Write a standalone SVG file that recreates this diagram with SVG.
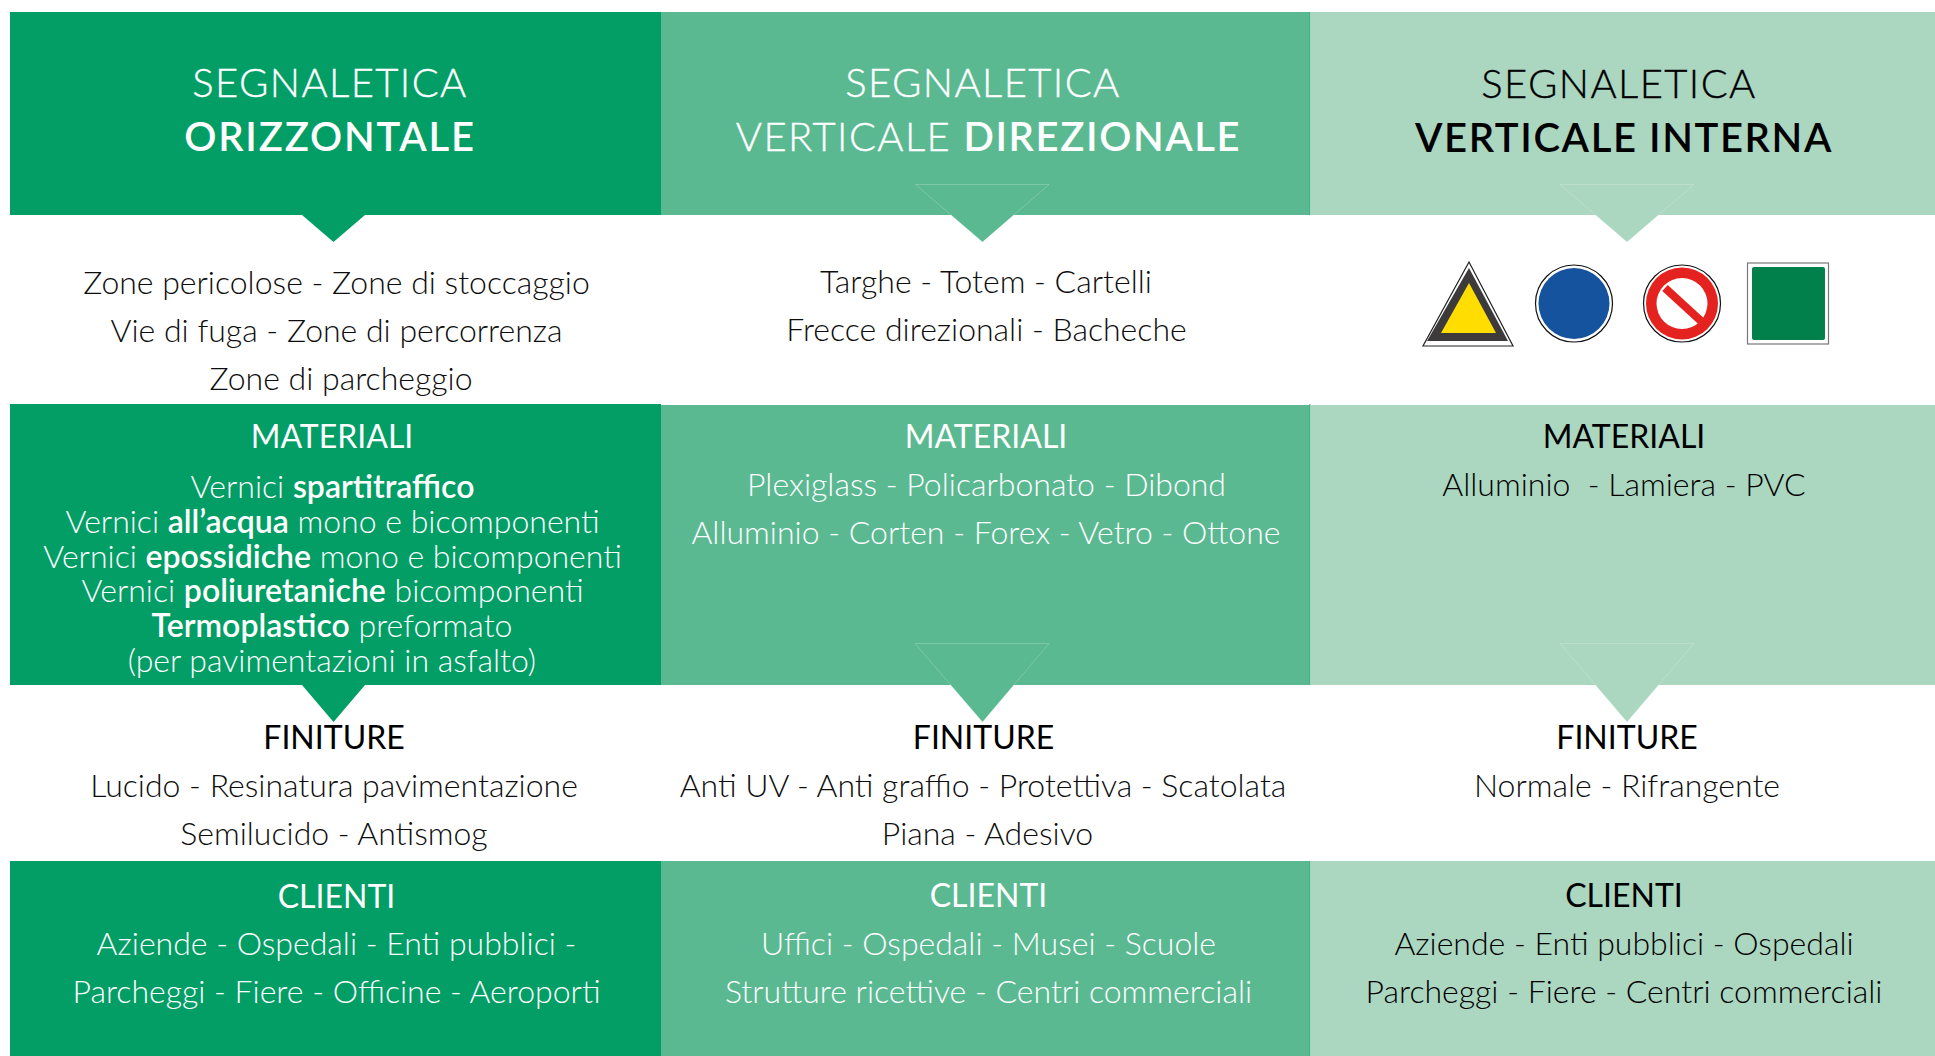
<svg xmlns="http://www.w3.org/2000/svg" width="1935" height="1056" viewBox="0 0 1935 1056">
<style>
text{font-family:"Lato","Carlito","Noto Sans",sans-serif;text-anchor:middle;font-weight:300;font-size:32px;fill:#0d0d0d}
.w text{fill:#fff}
.k text{fill:#000}
text.h{font-size:40px;font-weight:300;letter-spacing:1.4px;stroke-width:.35px}
.w text.h{stroke:#fff}
.k text.h{stroke:#000}
tspan.b,text.b{font-weight:600}
text.h.b,text.h tspan.b{letter-spacing:1.6px;stroke-width:0}
text.h.s{letter-spacing:1.8px}
text.t{font-weight:400;font-size:32px;fill:#000}
.w text.t{fill:#fff}
.a{fill:#029e66}.c{fill:#5bb992}.e{fill:#abd6c0}
.o{stroke:#ffffff;stroke-opacity:.2;stroke-width:1}
.d{fill:#2fb07f}
</style>
<rect width="1935" height="1056" fill="#fff"/>
<g id="col1-header" class="w">
<rect class="a" x="10" y="12" width="651" height="203"/>
<polygon class="a" points="302,215 365,215 333.500,242"/>
<text class="h" x="330" y="97">SEGNALETICA</text>
<text class="h b s" x="330" y="151">ORIZZONTALE</text>
</g>
<g id="col2-header" class="w">
<rect class="c" x="661" y="12" width="649" height="203"/>
<rect class="d" x="1309.500" y="12" width="1" height="203"/>
<polygon class="c o" points="915.500,184.500 1049,184.500 982.500,242"/>
<text class="h" x="983" y="97">SEGNALETICA</text>
<text class="h" x="988.500" y="151">VERTICALE <tspan class="b">DIREZIONALE</tspan></text>
</g>
<g id="col3-header" class="k">
<rect class="e" x="1310.500" y="12" width="624.500" height="203"/>
<polygon class="e o" points="1560,184.500 1694,184.500 1627,242"/>
<text class="h" x="1619" y="98">SEGNALETICA</text>
<text class="h b" x="1624" y="152">VERTICALE INTERNA</text>
</g>
<g id="col1-uses">
<text x="336.500" y="294">Zone pericolose - Zone di stoccaggio</text>
<text x="336.500" y="342">Vie di fuga - Zone di percorrenza</text>
<text x="341" y="390">Zone di parcheggio</text>
</g>
<g id="col2-uses">
<text x="986" y="293">Targhe - Totem - Cartelli</text>
<text x="986.500" y="341">Frecce direzionali - Bacheche</text>
</g>
<g id="col3-signs">
<polygon points="1469,262 1513,346 1423,346" fill="#fff" stroke="#222" stroke-width="1.200"/>
<polygon points="1469,268 1508,341 1427,341" fill="#3c3a3b"/>
<polygon points="1469,283 1496,333 1441,333" fill="#ffdd00"/>
<circle cx="1574" cy="303.500" r="38.500" fill="#fff" stroke="#111" stroke-width="1.200"/>
<circle cx="1574" cy="303.500" r="35.500" fill="#16539e"/>
<circle cx="1682" cy="303.500" r="38.500" fill="#fff" stroke="#111" stroke-width="1.200"/>
<circle cx="1682" cy="303.500" r="36" fill="#e42320"/>
<circle cx="1682" cy="303.500" r="25.500" fill="#fff"/>
<line x1="1665" y1="288" x2="1701" y2="321" stroke="#e42320" stroke-width="8"/>
<rect x="1747.500" y="263" width="81" height="81" fill="#fff" stroke="#777" stroke-width="1.200"/>
<rect x="1752" y="267" width="73" height="73" rx="2" fill="#02804b"/>
</g>
<g id="col1-materiali" class="w">
<rect class="a" x="10" y="404" width="651" height="281"/>
<polygon class="a" points="302,685 365,685 333.500,722"/>
<text class="t" x="332" y="448">MATERIALI</text>
<text x="332.500" y="498">Vernici <tspan class="b">spartitraffico</tspan></text>
<text x="332.500" y="533">Vernici <tspan class="b">all’acqua</tspan> mono e bicomponenti</text>
<text x="332.500" y="568">Vernici <tspan class="b">epossidiche</tspan> mono e bicomponenti</text>
<text x="332.500" y="602">Vernici <tspan class="b">poliuretaniche</tspan> bicomponenti</text>
<text x="332" y="637"><tspan class="b">Termoplastico</tspan> preformato</text>
<text x="332" y="672">(per pavimentazioni in asfalto)</text>
</g>
<g id="col2-materiali" class="w">
<rect class="c" x="661" y="405" width="649" height="280"/>
<rect class="d" x="1309.500" y="404" width="1" height="281"/>
<polygon class="c o" points="915,643.500 1049,643.500 982.500,722"/>
<text class="t" x="986" y="448">MATERIALI</text>
<text x="986.500" y="496">Plexiglass - Policarbonato - Dibond</text>
<text x="986" y="544">Alluminio - Corten - Forex - Vetro - Ottone</text>
</g>
<g id="col3-materiali" class="k">
<rect class="e" x="1310.500" y="405" width="624.500" height="280"/>
<polygon class="e o" points="1560,643.500 1694,643.500 1627,722"/>
<text class="t" x="1624" y="448">MATERIALI</text>
<text x="1624" y="496">Alluminio&#160; - Lamiera - PVC</text>
</g>
<g id="col1-finiture">
<text class="t" x="334" y="749">FINITURE</text>
<text x="334" y="797">Lucido - Resinatura pavimentazione</text>
<text x="334" y="845">Semilucido - Antismog</text>
</g>
<g id="col2-finiture">
<text class="t" x="983.500" y="749">FINITURE</text>
<text x="983" y="797">Anti UV - Anti graffio - Protettiva - Scatolata</text>
<text x="987.500" y="845">Piana - Adesivo</text>
</g>
<g id="col3-finiture">
<text class="t" x="1627" y="749">FINITURE</text>
<text x="1627" y="797">Normale - Rifrangente</text>
</g>
<g id="col1-clienti" class="w">
<rect class="a" x="10" y="861" width="651" height="195"/>
<text class="t" x="336.500" y="908">CLIENTI</text>
<text x="336.500" y="955">Aziende - Ospedali - Enti pubblici -</text>
<text x="336.500" y="1003">Parcheggi - Fiere - Officine - Aeroporti</text>
</g>
<g id="col2-clienti" class="w">
<rect class="c" x="661" y="861" width="649" height="195"/>
<rect class="d" x="1309.500" y="861" width="1" height="195"/>
<text class="t" x="988.500" y="907">CLIENTI</text>
<text x="988.500" y="955">Uffici - Ospedali - Musei - Scuole</text>
<text x="988.500" y="1003">Strutture ricettive - Centri commerciali</text>
</g>
<g id="col3-clienti" class="k">
<rect class="e" x="1310.500" y="861" width="624.500" height="195"/>
<text class="t" x="1624" y="907">CLIENTI</text>
<text x="1624" y="955">Aziende - Enti pubblici - Ospedali</text>
<text x="1624" y="1003">Parcheggi - Fiere - Centri commerciali</text>
</g>
<g id="connectors"></g>
</svg>
